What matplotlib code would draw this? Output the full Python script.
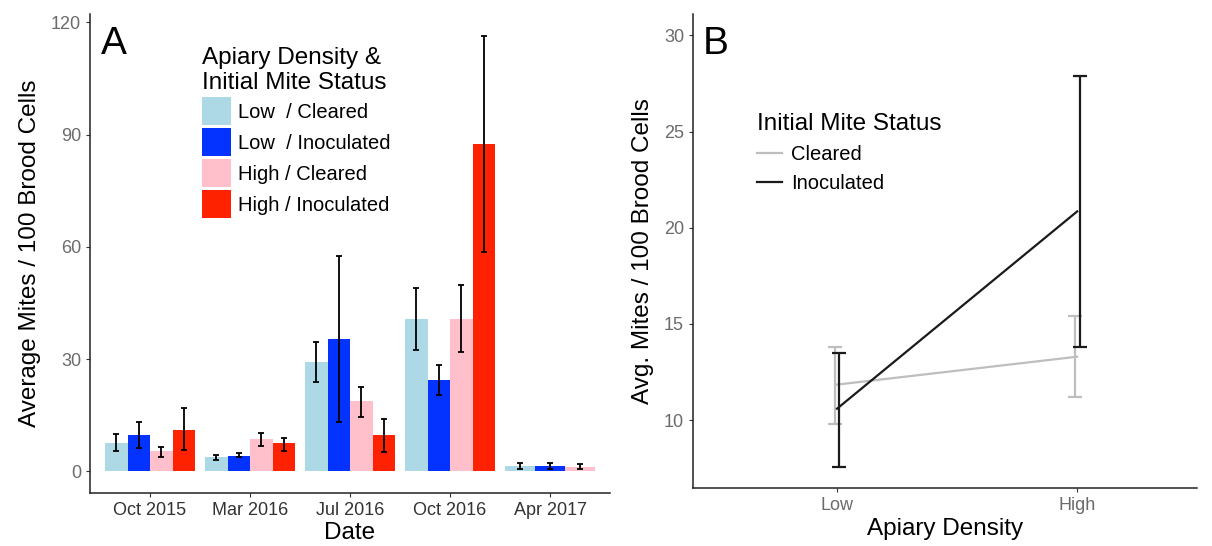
import numpy as np
import matplotlib
matplotlib.use('Agg')
import matplotlib.pyplot as plt
from matplotlib.patches import Patch
from matplotlib.lines import Line2D

plt.rcParams['font.family'] = ['Liberation Sans', 'DejaVu Sans']

# ── Panel A data ──
dates = ["Oct 2015", "Mar 2016", "Jul 2016", "Oct 2016", "Apr 2017"]
groups = ["Low  / Cleared", "Low  / Inoculated", "High / Cleared", "High / Inoculated"]
colors = ["#ADD8E6", "#0433FF", "#FFC0CB", "#FF2200"]

means = np.array([
    [7.6, 3.9, 29.3, 40.8, 1.3],
    [9.6, 4.2, 35.4, 24.5, 1.3],
    [5.4, 8.6, 18.7, 40.8, 1.2],
    [11.1, 7.5, 9.6, 87.5, np.nan],
])
err_hi = np.array([
    [10.0, 4.3, 34.5, 48.9, 2.1],
    [13.2, 5.0, 57.6, 28.3, 2.1],
    [6.5, 10.2, 22.6, 49.9, 2.0],
    [16.8, 9.0, 14.0, 116.3, np.nan],
])
err_lo = np.array([
    [5.4, 3.1, 24.0, 32.5, 0.7],
    [6.2, 3.7, 13.1, 20.5, 0.7],
    [3.9, 6.9, 14.6, 31.9, 0.5],
    [5.7, 5.5, 5.3, 58.7, np.nan],
])

# ── Panel B data ──
density = ["Low", "High"]
status = ["Cleared", "Inoculated"]
b_mean = np.array([[11.85, 13.3], [10.6, 20.85]])
b_hi = np.array([[13.8, 15.4], [13.5, 27.9]])
b_lo = np.array([[9.8, 11.2], [7.55, 13.8]])
b_colors = ["#BEBEBE", "#1A1A1A"]

fig = plt.figure(figsize=(12.12, 5.46), dpi=100)
axA = fig.add_axes([0.0743, 0.097, 0.4290, 0.877])
axB = fig.add_axes([0.5718, 0.106, 0.4160, 0.868])

# ── Panel A: dodged bars ──
dodge = 0.9
for j in range(len(dates)):
    present = [i for i in range(len(groups)) if not np.isnan(means[i, j])]
    w = dodge / len(present)
    for k, i in enumerate(present):
        x = j - dodge / 2 + w * (k + 0.5)
        axA.bar(x, means[i, j], width=w, color=colors[i], edgecolor="none", zorder=2)
        axA.errorbar(x, means[i, j],
                     yerr=[[means[i, j] - err_lo[i, j]], [err_hi[i, j] - means[i, j]]],
                     fmt="none", ecolor="black", elinewidth=1.3, capsize=2.5,
                     capthick=1.3, zorder=3)

axA.set_xlim(-0.6, 4.6)
axA.set_ylim(-5.8, 122.2)
axA.set_xticks(range(len(dates)))
axA.set_xticklabels(dates, color="#333333", fontsize=13)
axA.set_yticks([0, 30, 60, 90, 120])
axA.tick_params(axis="y", labelcolor="#6b6b6b", labelsize=13, color="#333333", length=3)
axA.tick_params(axis="x", color="#333333", length=3)
axA.set_xlabel("Date", fontsize=17.5, labelpad=2)
axA.set_ylabel("Average Mites / 100 Brood Cells", fontsize=17.5, labelpad=7)
for s in ["top", "right"]:
    axA.spines[s].set_visible(False)
for s in ["left", "bottom"]:
    axA.spines[s].set_linewidth(1.1)
    axA.spines[s].set_color("#222222")
axA.text(0.02, 0.975, "A", transform=axA.transAxes, fontsize=28, va="top", ha="left")

handlesA = [Patch(facecolor=c, edgecolor="none") for c in colors]
axA.legend(handlesA, groups, title="Apiary Density &\nInitial Mite Status",
           loc="upper left", bbox_to_anchor=(0.215, 0.932), frameon=False,
           fontsize=14.5, title_fontsize=17.5, handlelength=1.45, handleheight=1.76,
           handletextpad=0.35, labelspacing=0.15, alignment="left",
           borderaxespad=0, borderpad=0)

# ── Panel B: interaction lines ──
xs = np.arange(1, len(density) + 1)
offs = [-0.01, 0.01]
for i in range(len(status)):
    axB.plot(xs, b_mean[i], color=b_colors[i], lw=1.6, zorder=2 + i)
    axB.errorbar(xs + offs[i], b_mean[i],
                 yerr=[b_mean[i] - b_lo[i], b_hi[i] - b_mean[i]],
                 fmt="none", ecolor=b_colors[i], elinewidth=1.6, capsize=5,
                 capthick=1.6, zorder=2 + i)

axB.set_xlim(0.4, 2.5)
axB.set_ylim(6.47, 31.1)
axB.set_xticks(xs)
axB.set_xticklabels(density)
axB.set_yticks([10, 15, 20, 25, 30])
axB.tick_params(labelcolor="#6b6b6b", labelsize=13, color="#333333", length=3)
axB.set_xlabel("Apiary Density", fontsize=17.5, labelpad=3)
axB.set_ylabel("Avg. Mites / 100 Brood Cells", fontsize=17.5, labelpad=7)
for s in ["top", "right"]:
    axB.spines[s].set_visible(False)
for s in ["left", "bottom"]:
    axB.spines[s].set_linewidth(1.1)
    axB.spines[s].set_color("#222222")
axB.text(0.02, 0.975, "B", transform=axB.transAxes, fontsize=28, va="top", ha="left")

handlesB = [Line2D([0], [0], color=c, lw=1.6) for c in b_colors]
axB.legend(handlesB, status, title="Initial Mite Status", loc="upper left",
           bbox_to_anchor=(0.127, 0.791), frameon=False, fontsize=14.5,
           title_fontsize=17.5, handlelength=1.25, handletextpad=0.45,
           labelspacing=0.5, alignment="left", borderaxespad=0, borderpad=0)

fig.savefig("out.png", dpi=100)
